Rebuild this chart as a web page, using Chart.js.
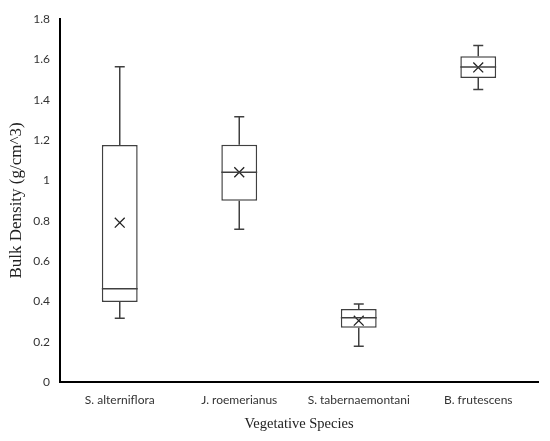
<!DOCTYPE html>
<html>
<head>
<meta charset="utf-8">
<script src="https://cdn.jsdelivr.net/npm/chart.js@4/dist/chart.umd.min.js"></script>
<style>
  html, body { margin: 0; padding: 0; background: #fff; }
  #wrap { width: 550px; height: 441px; position: relative; }
</style>
</head>
<body>
<div id="wrap"><canvas id="c" width="550" height="441"></canvas></div>
<script>
const categories = ['S. alterniflora', 'J. roemerianus', 'S. tabernaemontani', 'B. frutescens'];
const whiskerMin = [0.316, 0.757, 0.177, 1.451];
const q1 = [0.397, 0.899, 0.269, 1.507];
const median = [0.463, 1.04, 0.319, 1.562];
const q3 = [1.175, 1.177, 0.362, 1.615];
const whiskerMax = [1.563, 1.315, 0.387, 1.669];
const mean = [0.79, 1.04, 0.304, 1.56];
const yTicks = [0, 0.2, 0.4, 0.6, 0.8, 1, 1.2, 1.4, 1.6, 1.8];
const yTitle = 'Bulk Density (g/cm^3)';
const xTitle = 'Vegetative Species';

const lineColor = '#404040';

const boxPlugin = {
  id: 'boxWhiskers',
  afterDatasetsDraw(chart) {
    const ctx = chart.ctx;
    const ys = chart.scales.y;
    const meta = chart.getDatasetMeta(0);
    ctx.save();
    ctx.strokeStyle = lineColor;
    ctx.lineWidth = 1.5;
    meta.data.forEach((bar, i) => {
      const x = bar.x;
      const hw = bar.width / 2;
      const capHw = 5;
      const yMed = ys.getPixelForValue(median[i]);
      const yQ1 = ys.getPixelForValue(q1[i]);
      const yQ3 = ys.getPixelForValue(q3[i]);
      const yMin = ys.getPixelForValue(whiskerMin[i]);
      const yMax = ys.getPixelForValue(whiskerMax[i]);
      ctx.beginPath();
      ctx.moveTo(x - hw, yMed); ctx.lineTo(x + hw, yMed);
      ctx.moveTo(x, yQ3); ctx.lineTo(x, yMax);
      ctx.moveTo(x - capHw, yMax); ctx.lineTo(x + capHw, yMax);
      ctx.moveTo(x, yQ1); ctx.lineTo(x, yMin);
      ctx.moveTo(x - capHw, yMin); ctx.lineTo(x + capHw, yMin);
      ctx.stroke();
    });
    ctx.restore();
  }
};

new Chart(document.getElementById('c'), {
  type: 'bar',
  data: {
    labels: categories,
    datasets: [
      {
        type: 'bar',
        data: categories.map((_, i) => [q1[i], q3[i]]),
        backgroundColor: '#ffffff',
        borderColor: lineColor,
        borderWidth: 1.5,
        borderSkipped: false,
        barPercentage: 0.30,
        categoryPercentage: 1.0,
        order: 2
      },
      {
        type: 'line',
        data: mean,
        showLine: false,
        pointStyle: 'crossRot',
        pointRadius: 7,
        pointHoverRadius: 7,
        borderColor: '#222222',
        pointBorderWidth: 1.3,
        borderWidth: 1.3,
        order: 1
      }
    ]
  },
  options: {
    responsive: false,
    animation: false,
    events: [],
    layout: { padding: { top: 19, right: 12, left: 0, bottom: 0 } },
    plugins: { legend: { display: false }, tooltip: { enabled: false } },
    scales: {
      x: {
        grid: { display: false, drawTicks: false },
        border: { display: true, color: '#000000', width: 2 },
        ticks: { color: '#333333', font: { family: 'Lato', size: 12 }, padding: 11, maxRotation: 0 },
        title: { display: true, text: xTitle, color: '#222222', font: { family: 'Liberation Serif', size: 14.5 }, padding: { top: 0, bottom: 8 } },
        afterFit(scale) { scale.height = 59; }
      },
      y: {
        min: 0, max: 1.8,
        afterBuildTicks(scale) { scale.ticks = yTicks.map(v => ({ value: v })); },
        grid: { display: false, drawTicks: false },
        border: { display: true, color: '#000000', width: 2 },
        ticks: { color: '#333333', font: { family: 'Lato', size: 12 }, padding: 10, callback: v => String(v) },
        title: { display: true, text: yTitle, color: '#222222', font: { family: 'Liberation Serif', size: 17 }, padding: { top: 6, bottom: 0 } },
        afterFit(scale) { scale.width = 60; }
      }
    }
  },
  plugins: [boxPlugin]
});
</script>
</body>
</html>
